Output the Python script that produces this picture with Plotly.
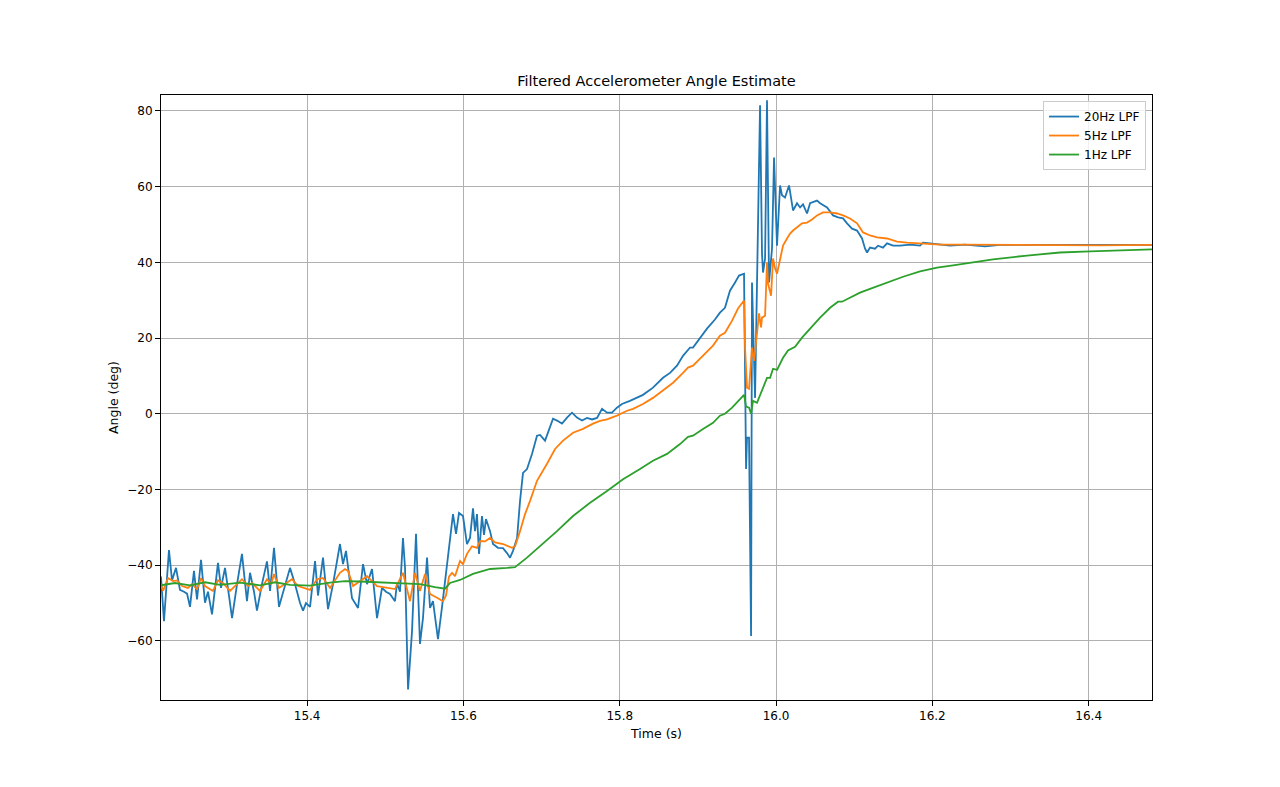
import plotly.graph_objects as go

# 20Hz low-pass filtered angle (deg) vs time (s)
t_20hz = [15.2130, 15.2168, 15.2232, 15.2271, 15.2322, 15.2373, 15.2424, 15.2463, 15.2501, 15.2552,
          15.2591, 15.2642, 15.2693, 15.2731, 15.2783, 15.2859, 15.2898, 15.2949, 15.3000, 15.3039,
          15.3103, 15.3166, 15.3230, 15.3269, 15.3320, 15.3358, 15.3422, 15.3486, 15.3525, 15.3576,
          15.3640, 15.3704, 15.3781, 15.3845, 15.3909, 15.3947, 15.3985, 15.4037, 15.4101, 15.4139,
          15.4203, 15.4267, 15.4331, 15.4420, 15.4459, 15.4497, 15.4574, 15.4651, 15.4715, 15.4766,
          15.4830, 15.4894, 15.4958, 15.5009, 15.5060, 15.5124, 15.5150, 15.5188, 15.5226, 15.5252,
          15.5291, 15.5342, 15.5393, 15.5444, 15.5482, 15.5534, 15.5572, 15.5610, 15.5674, 15.5726,
          15.5790, 15.5866, 15.5905, 15.5943, 15.5994, 15.6045, 15.6084, 15.6122, 15.6148, 15.6173,
          15.6199, 15.6237, 15.6263, 15.6288, 15.6340, 15.6378, 15.6442, 15.6506, 15.6557, 15.6596,
          15.6634, 15.6686, 15.6724, 15.6762, 15.6813, 15.6877, 15.6941, 15.6980, 15.7044, 15.7082,
          15.7146, 15.7197, 15.7261, 15.7325, 15.7389, 15.7453, 15.7517, 15.7581, 15.7645, 15.7709,
          15.7773, 15.7837, 15.7900, 15.7964, 15.8028, 15.8130, 15.8297, 15.8425, 15.8553, 15.8643,
          15.8732, 15.8809, 15.8899, 15.8937, 15.9027, 15.9116, 15.9218, 15.9282, 15.9346, 15.9410,
          15.9475, 15.9526, 15.9590, 15.9616, 15.9628, 15.9654, 15.9680, 15.9692, 15.9731, 15.9795,
          15.9820, 15.9833, 15.9859, 15.9884, 15.9910, 15.9948, 15.9974, 16.0012, 16.0051, 16.0076,
          16.0114, 16.0166, 16.0217, 16.0268, 16.0307, 16.0345, 16.0396, 16.0435, 16.0524, 16.0563,
          16.0652, 16.0729, 16.0793, 16.0857, 16.0908, 16.0972, 16.1036, 16.1100, 16.1139, 16.1164,
          16.1202, 16.1266, 16.1305, 16.1368, 16.1420, 16.1497, 16.1586, 16.1714, 16.1842, 16.1881,
          16.1970, 16.2098, 16.2226, 16.2418, 16.2674, 16.2866, 16.3378, 16.3890, 16.4401, 16.4811]
angle_20hz = [-43, -54.8, -36, -44, -40.7, -46.5, -47, -47.5, -51, -41.5,
              -49, -38.6, -49.9, -47, -53, -39.4, -46, -40.7, -48, -54,
              -45, -37, -49.5, -42, -47, -52, -45, -39, -46.8, -35.4,
              -51, -46, -40.7, -45, -50, -52, -50, -51, -38.9, -48,
              -38, -51.6, -45, -34.4, -39.7, -36.2, -48.7, -51.3, -39.7, -45,
              -41, -54, -46, -47, -47.6, -49.5, -44.7, -47, -32.8, -40.6,
              -72.8, -57.4, -31.7, -60.8, -54, -38, -51.3, -49.5, -59.5, -51,
              -39.7, -26.5, -31.7, -26.2, -27, -34.4, -32.8, -25, -31, -26.5,
              -37, -27, -32, -27.8, -31, -34.4, -35.4, -35.5, -36.8, -38,
              -36.2, -32.8, -23, -15.6, -14.6, -10.6, -5.8, -5.6, -7.1, -5,
              -1.3, -1.8, -2.6, -1, 0.3, -1, -1.8, -1.1, -1.5, -1.1,
              1.3, 0.3, 0.3, 1.6, 2.6, 3.4, 5, 6.9, 9.5, 10.8,
              12.7, 15.3, 17.5, 17.5, 20, 22.5, 24.9, 26.7, 28, 32.5,
              34.7, 36.5, 37, -14.6, -6.3, -6.3, -58.7, 34.7, 4.2, 81.5,
              42.3, 37.3, 41, 82.8, 34.7, 43.6, 67.7, 44.4, 60.3, 57.7,
              57.1, 60.3, 53.7, 55.6, 54.5, 55.3, 52.9, 55.6, 56.3, 55.6,
              54.5, 52.4, 51.9, 51.6, 50.3, 48.9, 48.4, 46.3, 43.6, 42.6,
              43.9, 43.6, 44.4, 43.9, 45, 44.4, 44.4, 44.7, 44.4, 45.2,
              45, 44.7, 44.4, 44.7, 44.2, 44.6, 44.6, 44.5, 44.6, 44.6]

# 5Hz low-pass filtered angle
t_5hz = [15.2130, 15.2156, 15.2220, 15.2284, 15.2335, 15.2399, 15.2475, 15.2527, 15.2591, 15.2642,
         15.2693, 15.2795, 15.2859, 15.2923, 15.3013, 15.3103, 15.3166, 15.3243, 15.3294, 15.3397,
         15.3486, 15.3538, 15.3576, 15.3640, 15.3717, 15.3806, 15.3883, 15.3947, 15.4037, 15.4126,
         15.4203, 15.4293, 15.4420, 15.4484, 15.4523, 15.4587, 15.4676, 15.4766, 15.4894, 15.5060,
         15.5124, 15.5226, 15.5316, 15.5380, 15.5444, 15.5508, 15.5572, 15.5662, 15.5738, 15.5777,
         15.5815, 15.5854, 15.5892, 15.5956, 15.5994, 15.6045, 15.6110, 15.6173, 15.6212, 15.6276,
         15.6340, 15.6404, 15.6506, 15.6621, 15.6660, 15.6724, 15.6788, 15.6852, 15.6941, 15.7069,
         15.7172, 15.7274, 15.7402, 15.7530, 15.7658, 15.7747, 15.7837, 15.7964, 15.8093, 15.8170,
         15.8297, 15.8425, 15.8553, 15.8682, 15.8809, 15.8873, 15.8937, 15.9065, 15.9193, 15.9282,
         15.9346, 15.9437, 15.9513, 15.9590, 15.9603, 15.9628, 15.9654, 15.9692, 15.9718, 15.9756,
         15.9782, 15.9808, 15.9820, 15.9859, 15.9884, 15.9897, 15.9936, 15.9961, 15.9987, 16.0012,
         16.0051, 16.0089, 16.0140, 16.0179, 16.0217, 16.0268, 16.0332, 16.0396, 16.0460, 16.0524,
         16.0601, 16.0691, 16.0780, 16.0857, 16.0946, 16.1036, 16.1113, 16.1202, 16.1292, 16.1420,
         16.1548, 16.1676, 16.1881, 16.2098, 16.2354, 16.2866, 16.3506, 16.4145, 16.4811]
angle_5hz = [-45, -46.8, -43.4, -44.2, -44, -45.5, -46, -45, -46.3, -43.4,
             -45.5, -46.8, -44, -44.7, -46.8, -45, -43.7, -45.5, -44.7, -46.8,
             -43.7, -45, -42.3, -46, -45, -43.7, -45.5, -46, -46.5, -43.7,
             -43.4, -46, -42, -41, -41.5, -45.5, -44.2, -42.9, -45.5, -46,
             -46.3, -42, -49.5, -42, -46.8, -42.3, -47.6, -48.6, -49.5, -48,
             -43, -42, -42.9, -38.9, -39.7, -37, -35, -35.4, -33.6, -33.7,
             -32.8, -34, -34.4, -35.4, -35, -31, -26.5, -23, -17.7, -13.2,
             -9.3, -7.1, -5, -4, -2.6, -1.9, -1.5, -0.5, 0.8, 1.3,
             2.6, 4.2, 6.1, 8.2, 10.8, 12.2, 12.7, 15.3, 18, 20.6,
             21.4, 24.6, 27.8, 29.9, 17.5, 6.9, 6.6, 17.5, 14, 21.2,
             26.5, 22.8, 25.4, 25.9, 40, 34.4, 31.2, 41, 38.4, 37,
             41, 44.4, 46.3, 47.6, 48.4, 49.2, 50.3, 50.5, 51.3, 52.4,
             53.2, 53.2, 52.9, 52.4, 51.6, 50.3, 47.9, 47.1, 46.6, 46.3,
             45.5, 45.2, 45, 44.7, 44.7, 44.6, 44.6, 44.5, 44.6]

# 1Hz low-pass filtered angle
t_1hz = [15.2130, 15.2309, 15.2501, 15.2693, 15.2885, 15.3141, 15.3397, 15.3589, 15.3781, 15.4037,
         15.4293, 15.4484, 15.4676, 15.4932, 15.5188, 15.5444, 15.5636, 15.5764, 15.5828, 15.5956,
         15.6122, 15.6340, 15.6557, 15.6660, 15.6813, 15.6980, 15.7197, 15.7402, 15.7620, 15.7837,
         15.8042, 15.8259, 15.8425, 15.8605, 15.8771, 15.8873, 15.8937, 15.9065, 15.9193, 15.9282,
         15.9346, 15.9437, 15.9590, 15.9616, 15.9654, 15.9680, 15.9705, 15.9756, 15.9795, 15.9833,
         15.9884, 15.9923, 15.9961, 16.0012, 16.0089, 16.0153, 16.0243, 16.0332, 16.0435, 16.0563,
         16.0691, 16.0793, 16.0844, 16.0946, 16.1074, 16.1202, 16.1420, 16.1625, 16.1842, 16.2060,
         16.2264, 16.2482, 16.2776, 16.3211, 16.3633, 16.4018, 16.4401, 16.4811]
angle_1hz = [-45.3, -44.7, -45.3, -44.5, -45.2, -44.6, -45.3, -44.5, -45.2, -45.4,
             -44.6, -44.2, -44.3, -44.6, -44.8, -45, -45.8, -46.2, -44.7, -43.9,
             -42.3, -41, -40.7, -40.5, -38, -35, -31, -27, -23.5, -20.4,
             -17.3, -14.6, -12.4, -10.6, -8, -6.1, -5.8, -4, -2.4, -0.5,
             0, 1.6, 5, 1.9, 1.6, 0, 3.4, 2.9, 4.8, 6.6,
             9.5, 9.5, 11.9, 11.6, 14.8, 16.7, 17.7, 20.1, 22.5, 25.4,
             28, 29.6, 29.6, 30.7, 32, 33, 34.7, 36.2, 37.6, 38.6,
             39.2, 39.9, 40.8, 41.8, 42.6, 42.9, 43.1, 43.4]

x_ticks = [15.4, 15.6, 15.8, 16.0, 16.2, 16.4]
y_ticks = [-60, -40, -20, 0, 20, 40, 60, 80]

fig = go.Figure()

fig.add_trace(go.Scatter(x=t_20hz, y=angle_20hz, mode="lines", name="20Hz LPF",
                         line=dict(color="#1f77b4", width=1.8)))
fig.add_trace(go.Scatter(x=t_5hz, y=angle_5hz, mode="lines", name="5Hz LPF",
                         line=dict(color="#ff7f0e", width=1.8)))
fig.add_trace(go.Scatter(x=t_1hz, y=angle_1hz, mode="lines", name="1Hz LPF",
                         line=dict(color="#2ca02c", width=1.8)))

axis_style = dict(
    showline=True, linecolor="black", linewidth=1, mirror=True,
    showgrid=True, gridcolor="#b0b0b0", gridwidth=1,
    ticks="outside", ticklen=5, tickcolor="black",
    zeroline=False, tickfont=dict(size=12, color="black"),
)

# the page adds an 8px body margin, so the figure is a bit smaller than the window
fig.update_layout(
    width=1272, height=779,
    margin=dict(l=153, r=128, t=87, b=87),
    paper_bgcolor="white", plot_bgcolor="white",
    font=dict(family="DejaVu Sans", color="black"),
    title=dict(text="Filtered Accelerometer Angle Estimate", x=0.5, xref="paper",
               y=1 - 73 / 779, yanchor="middle", font=dict(size=14.5)),
    xaxis=dict(range=[15.213, 16.481], tickvals=x_ticks,
               ticktext=[f"{v:.1f}" for v in x_ticks],
               title=dict(text="Time (s)", font=dict(size=12.5), standoff=6),
               **axis_style),
    yaxis=dict(range=[-75.6, 84.2], tickvals=y_ticks,
               ticktext=[str(v).replace("-", "\u2212") for v in y_ticks],
               title=dict(text="Angle (deg)", font=dict(size=12.5), standoff=5),
               **axis_style),
    legend=dict(x=0.994, y=0.99, xanchor="right", yanchor="top",
                bgcolor="rgba(255,255,255,0.8)", bordercolor="#cccccc", borderwidth=1,
                font=dict(size=12), tracegroupgap=0),
    showlegend=True,
)

fig.write_html("out.html")
